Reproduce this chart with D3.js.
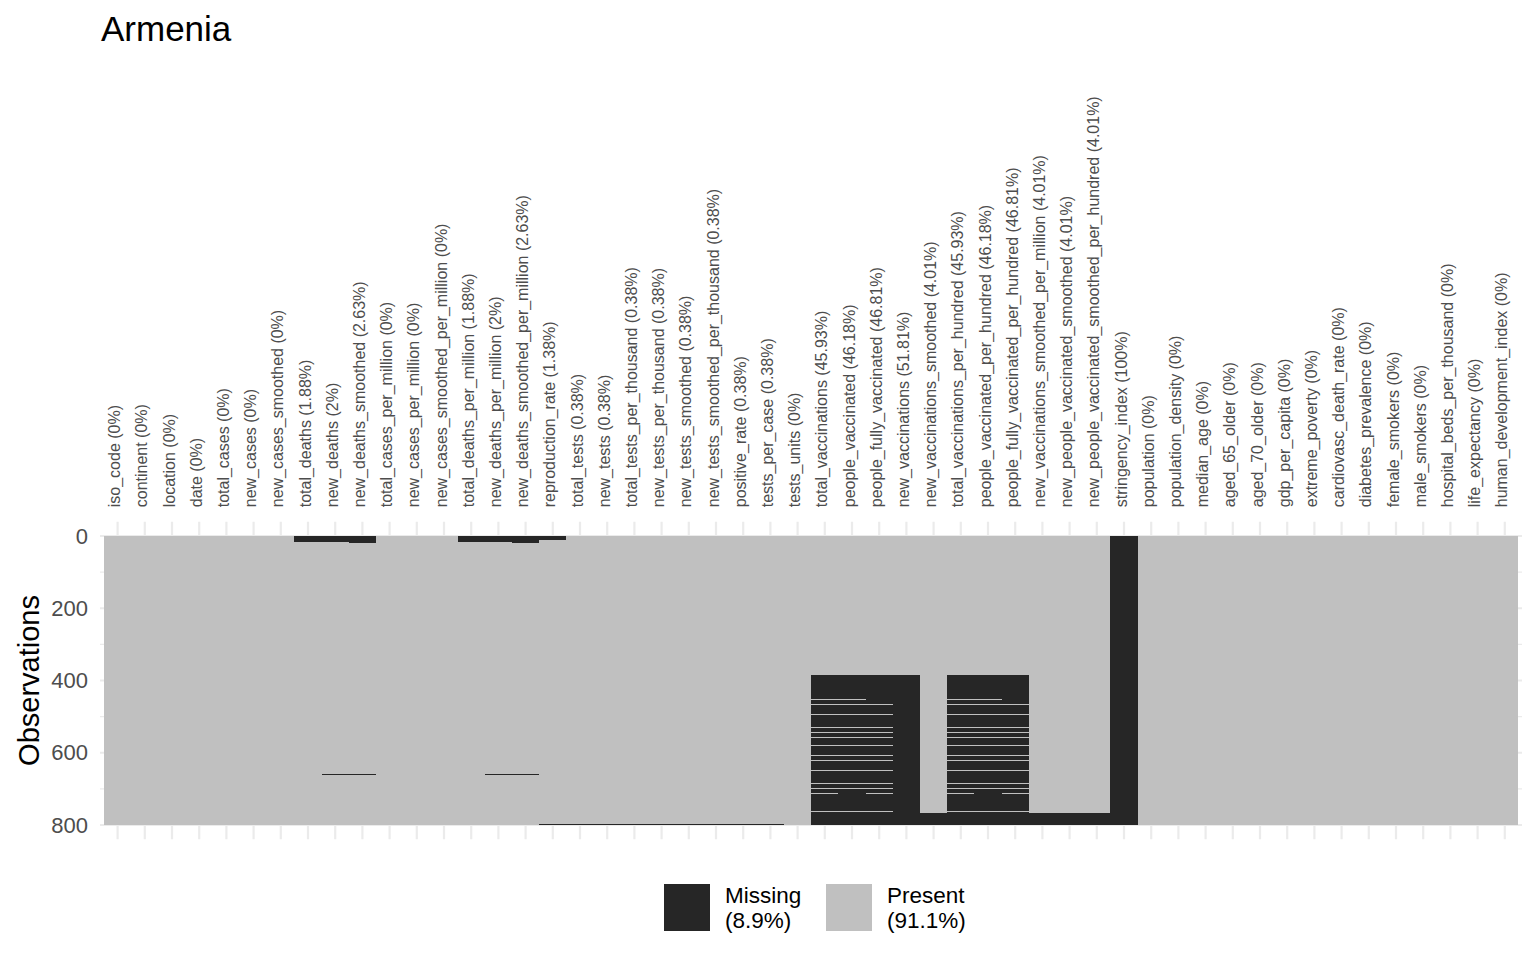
<!DOCTYPE html>
<html>
<head>
<meta charset="utf-8">
<script src="https://cdn.jsdelivr.net/npm/d3@7"></script>
<style>
  html, body { margin: 0; padding: 0; background: #ffffff; }
  svg { display: block; font-family: "Liberation Sans", Arial, Helvetica, sans-serif; }
</style>
</head>
<body>
<svg id="chart" width="1536" height="960"></svg>
<script>
// ---------------- data ----------------
const chartTitle = "Armenia";
const nObs = 799;
const yTicks = [0, 200, 400, 600, 800];
const yMinorTicks = [100, 300, 500, 700];

const columns = [
  "iso_code", "continent", "location", "date", "total_cases", "new_cases",
  "new_cases_smoothed", "total_deaths", "new_deaths", "new_deaths_smoothed",
  "total_cases_per_million", "new_cases_per_million", "new_cases_smoothed_per_million",
  "total_deaths_per_million", "new_deaths_per_million", "new_deaths_smoothed_per_million",
  "reproduction_rate", "total_tests", "new_tests", "total_tests_per_thousand",
  "new_tests_per_thousand", "new_tests_smoothed", "new_tests_smoothed_per_thousand",
  "positive_rate", "tests_per_case", "tests_units", "total_vaccinations",
  "people_vaccinated", "people_fully_vaccinated", "new_vaccinations",
  "new_vaccinations_smoothed", "total_vaccinations_per_hundred",
  "people_vaccinated_per_hundred", "people_fully_vaccinated_per_hundred",
  "new_vaccinations_smoothed_per_million", "new_people_vaccinated_smoothed",
  "new_people_vaccinated_smoothed_per_hundred", "stringency_index", "population",
  "population_density", "median_age", "aged_65_older", "aged_70_older",
  "gdp_per_capita", "extreme_poverty", "cardiovasc_death_rate", "diabetes_prevalence",
  "female_smokers", "male_smokers", "hospital_beds_per_thousand", "life_expectancy",
  "human_development_index"
];

const missingPct = [
  "0%", "0%", "0%", "0%", "0%", "0%",
  "0%", "1.88%", "2%", "2.63%",
  "0%", "0%", "0%",
  "1.88%", "2%", "2.63%",
  "1.38%", "0.38%", "0.38%", "0.38%",
  "0.38%", "0.38%", "0.38%",
  "0.38%", "0.38%", "0%", "45.93%",
  "46.18%", "46.81%", "51.81%",
  "4.01%", "45.93%",
  "46.18%", "46.81%",
  "4.01%", "4.01%",
  "4.01%", "100%", "0%",
  "0%", "0%", "0%", "0%",
  "0%", "0%", "0%", "0%",
  "0%", "0%", "0%", "0%",
  "0%"
];

const legendLabels = ["Missing\n(8.9%)", "Present\n(91.1%)"];

// missing runs: [column, first row, last row]
const deathsMissing = [
  ["total_deaths", 1, 15],
  ["new_deaths", 1, 15], ["new_deaths", 660, 660],
  ["new_deaths_smoothed", 1, 20], ["new_deaths_smoothed", 660, 660],
  ["total_deaths_per_million", 1, 15],
  ["new_deaths_per_million", 1, 15], ["new_deaths_per_million", 660, 660],
  ["new_deaths_smoothed_per_million", 1, 20], ["new_deaths_smoothed_per_million", 660, 660],
  ["reproduction_rate", 1, 10], ["reproduction_rate", 799, 799]
];

const testsMissing = [
  ["total_tests", 797, 799], ["new_tests", 797, 799],
  ["total_tests_per_thousand", 797, 799], ["new_tests_per_thousand", 797, 799],
  ["new_tests_smoothed", 797, 799], ["new_tests_smoothed_per_thousand", 797, 799],
  ["positive_rate", 797, 799], ["tests_per_case", 797, 799]
];

const vaccinationMissing = [
  ["total_vaccinations", 386, 799], ["people_vaccinated", 386, 799],
  ["people_fully_vaccinated", 386, 799], ["new_vaccinations", 386, 799],
  ["new_vaccinations_smoothed", 768, 799],
  ["total_vaccinations_per_hundred", 386, 799], ["people_vaccinated_per_hundred", 386, 799],
  ["people_fully_vaccinated_per_hundred", 386, 799],
  ["new_vaccinations_smoothed_per_million", 768, 799],
  ["new_people_vaccinated_smoothed", 768, 799],
  ["new_people_vaccinated_smoothed_per_hundred", 768, 799],
  ["stringency_index", 1, 799]
];

// rows that are reported (present) inside the vaccination gap: [first row, last row]
const totalVaxReported = [
  [452, 454], [465, 467], [493, 495], [529, 531], [543, 545], [557, 559], [579, 581],
  [607, 609], [620, 623], [648, 650], [684, 686], [698, 700], [712, 714], [762, 764]
];
const peopleVaxReported = [
  [452, 454], [465, 467], [493, 495], [529, 531], [543, 545], [557, 559], [579, 581],
  [607, 609], [620, 623], [648, 650], [684, 686], [698, 700], [762, 764]
];
const fullyVaxReported = [
  [465, 467], [493, 495], [529, 531], [543, 545], [557, 559], [579, 581],
  [607, 609], [620, 623], [648, 650], [684, 686], [698, 700], [712, 714], [762, 764]
];
const reportedByColumn = [
  ["total_vaccinations", totalVaxReported],
  ["people_vaccinated", peopleVaxReported],
  ["people_fully_vaccinated", fullyVaxReported],
  ["total_vaccinations_per_hundred", totalVaxReported],
  ["people_vaccinated_per_hundred", peopleVaxReported],
  ["people_fully_vaccinated_per_hundred", fullyVaxReported]
];

// ---------------- build matrix & runs ----------------
const matrix = new Map(columns.map(c => [c, new Uint8Array(nObs + 1)]));
[...deathsMissing, ...testsMissing, ...vaccinationMissing].forEach(([c, a, b]) => {
  const arr = matrix.get(c);
  for (let r = a; r <= b; r++) arr[r] = 1;
});
reportedByColumn.forEach(([c, list]) => {
  const arr = matrix.get(c);
  list.forEach(([a, b]) => { for (let r = a; r <= b; r++) arr[r] = 0; });
});

const runs = [];
columns.forEach(c => {
  const arr = matrix.get(c);
  let start = 1;
  for (let r = 2; r <= nObs + 1; r++) {
    if (r === nObs + 1 || arr[r] !== arr[start]) {
      runs.push({ col: c, start, end: r - 1, missing: arr[start] === 1 });
      start = r;
    }
  }
});

// ---------------- layout ----------------
const colorMissing = "#262626";
const colorPresent = "#c0c0c0";
const gridColor = "#ebebeb";

const svg = d3.select("#chart");
svg.append("rect").attr("width", 1536).attr("height", 960).attr("fill", "#ffffff");

const x = d3.scaleBand().domain(columns).range([104, 1518.4]).padding(0);
const y = d3.scaleLinear().domain([0, 800]).range([536, 825]);

const panelTop = y(0.5 - 0.05 * (nObs - 1)) ;
const panelBottom = y(nObs + 0.5 + 0.05 * (nObs - 1));
const panelLeft = 100, panelRight = 1522;

// grid
const grid = svg.append("g");
grid.selectAll(".vgrid").data(columns).join("line")
  .attr("x1", d => x(d) + x.bandwidth() / 2).attr("x2", d => x(d) + x.bandwidth() / 2)
  .attr("y1", panelTop).attr("y2", panelBottom)
  .attr("stroke", gridColor).attr("stroke-width", 2.2);
grid.selectAll(".hminor").data(yMinorTicks).join("line")
  .attr("x1", panelLeft).attr("x2", panelRight)
  .attr("y1", d => y(d)).attr("y2", d => y(d))
  .attr("stroke", gridColor).attr("stroke-width", 1.2);
grid.selectAll(".hmajor").data(yTicks).join("line")
  .attr("x1", panelLeft).attr("x2", panelRight)
  .attr("y1", d => y(d)).attr("y2", d => y(d))
  .attr("stroke", gridColor).attr("stroke-width", 2.2);

// raster
svg.append("g").attr("shape-rendering", "crispEdges")
  .selectAll("rect").data(runs).join("rect")
  .attr("x", d => x(d.col))
  .attr("width", x.bandwidth())
  .attr("y", d => y(d.start - 0.5))
  .attr("height", d => y(d.end + 0.5) - y(d.start - 0.5))
  .attr("fill", d => d.missing ? colorMissing : colorPresent);

// y axis
const yAxis = svg.append("g").attr("transform", `translate(${panelLeft},0)`)
  .call(d3.axisLeft(y).tickValues(yTicks).tickSize(0).tickPadding(12));
yAxis.select(".domain").remove();
yAxis.selectAll("text")
  .attr("font-size", 22).attr("fill", "#4d4d4d")
  .attr("font-family", "Liberation Sans, Arial, sans-serif");

// top x labels
const labelOf = d3.scaleOrdinal().domain(columns).range(columns.map((c, i) => `${c} (${missingPct[i]})`));
const xAxis = svg.append("g").attr("transform", `translate(0,${panelTop})`)
  .call(d3.axisTop(x).tickSize(0).tickFormat(d => labelOf(d)));
xAxis.select(".domain").remove();
xAxis.selectAll("text")
  .attr("font-size", 16).attr("fill", "#4d4d4d")
  .attr("font-family", "Liberation Sans, Arial, sans-serif")
  .attr("text-anchor", "start")
  .attr("transform", "rotate(-90)")
  .attr("x", 14.5).attr("y", 0).attr("dy", "0.16em");

// titles
svg.append("text").attr("x", 101).attr("y", 41)
  .attr("font-size", 35).attr("fill", "#000").text(chartTitle);

svg.append("text")
  .attr("transform", `translate(38.5,${(panelTop + panelBottom) / 2}) rotate(-90)`)
  .attr("text-anchor", "middle").attr("font-size", 29).attr("fill", "#000")
  .text("Observations");

// legend
const legendItems = [
  { label: legendLabels[0], color: colorMissing, x: 664 },
  { label: legendLabels[1], color: colorPresent, x: 826 }
];
const lg = svg.append("g");
legendItems.forEach(it => {
  lg.append("rect").attr("x", it.x).attr("y", 884).attr("width", 46).attr("height", 47)
    .attr("fill", it.color);
  const t = lg.append("text").attr("x", it.x + 61).attr("y", 903)
    .attr("font-size", 22.5).attr("fill", "#000");
  it.label.split("\n").forEach((line, i) => {
    t.append("tspan").attr("x", it.x + 61).attr("dy", i === 0 ? 0 : 24.5).text(line);
  });
});
</script>
</body>
</html>
